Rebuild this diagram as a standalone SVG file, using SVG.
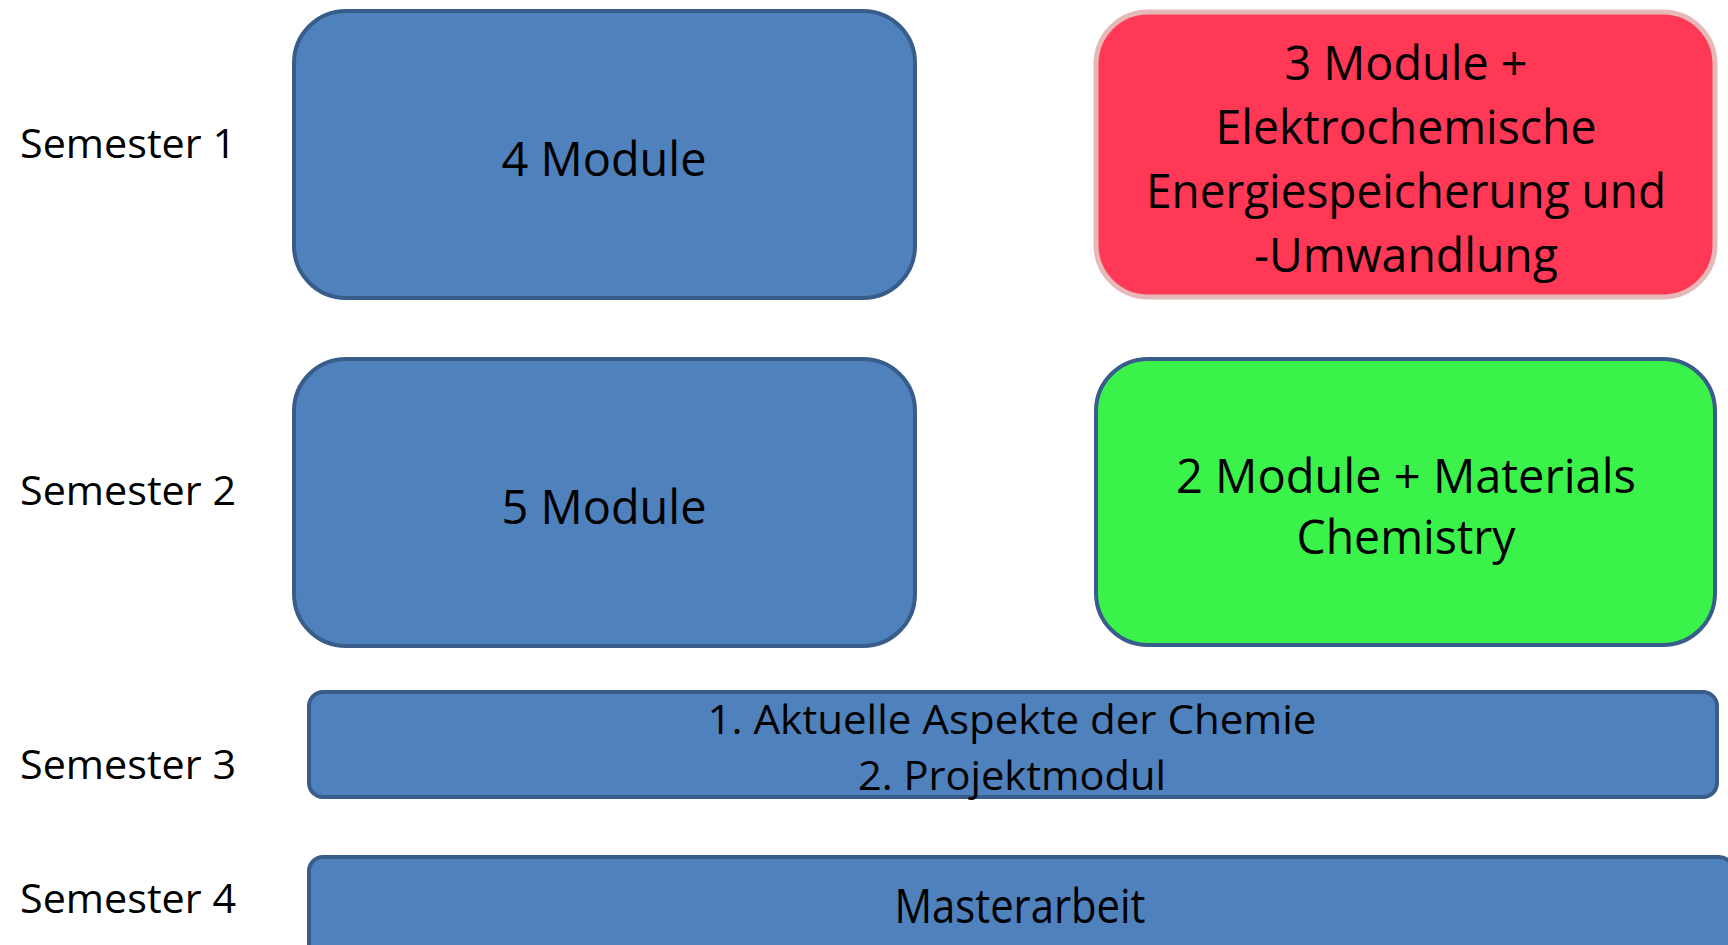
<svg xmlns="http://www.w3.org/2000/svg" width="1728" height="945" viewBox="0 0 1728 945">
<style>
.lbl{font-family:"Open Sans","Liberation Sans",sans-serif;font-size:41px;fill:#000}
.bt{font-family:"Open Sans","Liberation Sans",sans-serif;font-size:47px;fill:#000;text-anchor:middle}
.bt2{font-family:"Open Sans","Liberation Sans",sans-serif;font-size:41px;fill:#000;text-anchor:middle}
.blue{fill:#4F81BD;stroke:#385D8A;stroke-width:4}
</style>
<rect width="1728" height="945" fill="#fff"/>
<g id="labels">
<text class="lbl" x="20" y="158" textLength="216" lengthAdjust="spacingAndGlyphs">Semester 1</text>
<text class="lbl" x="20" y="505" textLength="216" lengthAdjust="spacingAndGlyphs">Semester 2</text>
<text class="lbl" x="20" y="779" textLength="216" lengthAdjust="spacingAndGlyphs">Semester 3</text>
<text class="lbl" x="20" y="913" textLength="216" lengthAdjust="spacingAndGlyphs">Semester 4</text>
</g>
<g id="s1a">
<rect class="blue" x="294" y="11" width="621" height="287" rx="52" ry="52"/>
<text class="bt" x="604" y="176" textLength="205" lengthAdjust="spacingAndGlyphs">4 Module</text>
</g>
<g id="s1b">
<rect x="1096" y="12" width="619" height="285" rx="52" ry="52" fill="#FF3855" stroke="#E6B9B8" stroke-width="5"/>
<text class="bt" x="1406" y="80" textLength="243" lengthAdjust="spacingAndGlyphs">3 Module +</text>
<text class="bt" x="1406" y="144" textLength="381" lengthAdjust="spacingAndGlyphs">Elektrochemische</text>
<text class="bt" x="1406" y="208" textLength="520" lengthAdjust="spacingAndGlyphs">Energiespeicherung und</text>
<text class="bt" x="1406" y="272" textLength="304" lengthAdjust="spacingAndGlyphs">-Umwandlung</text>
</g>
<g id="s2a">
<rect class="blue" x="294" y="359" width="621" height="287" rx="52" ry="52"/>
<text class="bt" x="604" y="524" textLength="205" lengthAdjust="spacingAndGlyphs">5 Module</text>
</g>
<g id="s2b">
<rect x="1096" y="359" width="619" height="286" rx="52" ry="52" fill="#3AF24A" stroke="#385D8A" stroke-width="4"/>
<text class="bt" x="1406" y="493" textLength="460" lengthAdjust="spacingAndGlyphs">2 Module + Materials</text>
<text class="bt" x="1406" y="554" textLength="219" lengthAdjust="spacingAndGlyphs">Chemistry</text>
</g>
<g id="s3">
<rect class="blue" x="309" y="692" width="1408" height="105" rx="14" ry="14"/>
<text class="bt2" x="1012" y="734" textLength="609" lengthAdjust="spacingAndGlyphs">1. Aktuelle Aspekte der Chemie</text>
<text class="bt2" x="1012" y="790" textLength="308" lengthAdjust="spacingAndGlyphs">2. Projektmodul</text>
</g>
<g id="s4">
<rect class="blue" x="309" y="857" width="1424" height="110" rx="14" ry="14"/>
<text class="bt" x="1020" y="923" textLength="251" lengthAdjust="spacingAndGlyphs">Masterarbeit</text>
</g>
<g id="connectors"/>
</svg>
